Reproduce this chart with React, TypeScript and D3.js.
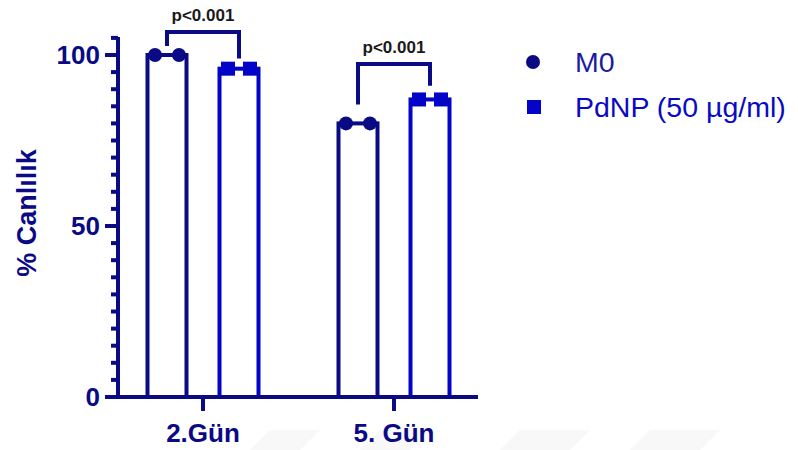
import React, { useEffect, useRef } from 'react';
import * as d3 from 'd3';

const groups = ['2.Gün', '5. Gün'];
const series = ['M0', 'PdNP (50 µg/ml)'];
// mean per group, per series
const meanM0 = [100, 80];
const meanPd = [96, 87];
// replicate points
const pointsM0 = [[100, 100], [80, 80]];
const pointsPd = [[96, 96], [87, 87]];
// significance brackets
const pLabels = ['p<0.001', 'p<0.001'];
const bracketTop = [106.7, 97.4];
const bracketLeftEnd = [102.6, 85.5];
const bracketRightEnd = [99, 91];
const yTicksMajor = [0, 50, 100];

const NAVY = '#0a0a84';
const BLUE = '#0404c8';

const App: React.FC = () => {
  const svgRef = useRef<SVGSVGElement>(null);

  useEffect(() => {
    const svg = d3.select(svgRef.current);
    svg.selectAll('*').remove();

    const font = '"Liberation Sans", Arial, sans-serif';

    // faint watermark shapes at the bottom
    const wm = [[250, 300], [360, 410], [500, 570], [630, 700]];
    svg.selectAll('.wm').data(wm).enter().append('polygon')
      .attr('points', d => `${d[0] + 20},430 ${d[1] + 20},430 ${d[1]},450 ${d[0]},450`)
      .attr('fill', '#f8f8f8');

    const y = d3.scaleLinear().domain([0, 100]).range([397, 55]);
    const x = d3.scaleBand().domain(groups).range([107.5, 489.5]);
    const xs = d3.scalePoint().domain(series).range([-36, 36]);
    const barW = 39;
    const colors = [NAVY, BLUE];
    const means = [meanM0, meanPd];

    const cx = (gi: number, si: number) => x(groups[gi])! + x.bandwidth() / 2 + xs(series[si])!;

    // bars
    series.forEach((s, si) => {
      svg.selectAll(`.bar${si}`).data(groups).enter().append('rect')
        .attr('x', (g, gi) => cx(gi, si) - barW / 2)
        .attr('y', (g, gi) => y(means[si][gi]))
        .attr('width', barW)
        .attr('height', (g, gi) => y(0) - y(means[si][gi]))
        .attr('fill', 'white')
        .attr('stroke', colors[si])
        .attr('stroke-width', 4);
    });

    // axes
    const yAxis = svg.append('g').attr('transform', 'translate(118,0)');
    yAxis.append('line').attr('x1', 0).attr('x2', 0).attr('y1', y(105) - 1).attr('y2', y(0) + 2)
      .attr('stroke', NAVY).attr('stroke-width', 4);
    yAxis.selectAll('.minor').data(d3.range(0, 106, 5)).enter().append('line')
      .attr('x1', d => (yTicksMajor.includes(d) ? -13 : -7)).attr('x2', 0)
      .attr('y1', d => y(d)).attr('y2', d => y(d))
      .attr('stroke', NAVY).attr('stroke-width', 4);
    yAxis.selectAll('.lab').data(yTicksMajor).enter().append('text')
      .attr('x', -18).attr('y', d => y(d) + 9)
      .attr('text-anchor', 'end')
      .attr('font-family', font).attr('font-weight', 'bold').attr('font-size', 26)
      .attr('fill', NAVY)
      .text(d => d);

    svg.append('line').attr('x1', 116).attr('x2', 478).attr('y1', y(0)).attr('y2', y(0))
      .attr('stroke', NAVY).attr('stroke-width', 4);
    svg.selectAll('.xt').data(groups).enter().append('line')
      .attr('x1', g => x(g)! + x.bandwidth() / 2).attr('x2', g => x(g)! + x.bandwidth() / 2)
      .attr('y1', y(0)).attr('y2', y(0) + 14)
      .attr('stroke', NAVY).attr('stroke-width', 4);
    svg.selectAll('.xl').data(groups).enter().append('text')
      .attr('x', g => x(g)! + x.bandwidth() / 2).attr('y', 442)
      .attr('text-anchor', 'middle')
      .attr('font-family', font).attr('font-weight', 'bold').attr('font-size', 26)
      .attr('fill', NAVY)
      .text(g => g);

    svg.append('text')
      .attr('transform', 'translate(36,213) rotate(-90)')
      .attr('text-anchor', 'middle')
      .attr('font-family', font).attr('font-weight', 'bold').attr('font-size', 27)
      .attr('fill', NAVY)
      .text('% Canlılık');

    // points
    groups.forEach((g, gi) => {
      pointsM0[gi].forEach((v, k) => {
        svg.append('circle').attr('cx', cx(gi, 0) + (k === 0 ? -12 : 12)).attr('cy', y(v)).attr('r', 7)
          .attr('fill', NAVY);
      });
      pointsPd[gi].forEach((v, k) => {
        const px = cx(gi, 1) + (k === 0 ? -11 : 11);
        svg.append('rect').attr('x', px - 7).attr('y', y(v) - 7).attr('width', 14).attr('height', 14)
          .attr('fill', BLUE);
      });
    });

    // brackets
    groups.forEach((g, gi) => {
      const x1 = cx(gi, 0);
      const x2 = cx(gi, 1);
      svg.append('path')
        .attr('d', `M${x1},${y(bracketLeftEnd[gi])} V${y(bracketTop[gi])} H${x2} V${y(bracketRightEnd[gi])}`)
        .attr('fill', 'none').attr('stroke', NAVY).attr('stroke-width', 4)
        .attr('stroke-linejoin', 'miter');
      svg.append('text')
        .attr('x', (x1 + x2) / 2).attr('y', y(bracketTop[gi]) - 11)
        .attr('text-anchor', 'middle')
        .attr('font-family', font).attr('font-weight', 'bold').attr('font-size', 17)
        .attr('fill', '#1a1a1a')
        .text(pLabels[gi]);
    });

    // legend
    const leg = svg.append('g');
    series.forEach((s, si) => {
      const ly = 62 + si * 45;
      if (si === 0) {
        leg.append('circle').attr('cx', 533).attr('cy', ly).attr('r', 7).attr('fill', NAVY);
      } else {
        leg.append('rect').attr('x', 527).attr('y', ly - 7).attr('width', 14).attr('height', 14).attr('fill', BLUE);
      }
      leg.append('text')
        .attr('x', 575).attr('y', ly + 10)
        .attr('font-family', font).attr('font-size', 28.5)
        .attr('fill', si === 0 ? '#1c1ca0' : '#0a0ac4')
        .text(s);
    });
  }, []);

  return (
    <svg ref={svgRef} width={798} height={450}
      style={{ position: 'absolute', left: 0, top: 0, background: 'white' }} />
  );
};

export default App;
